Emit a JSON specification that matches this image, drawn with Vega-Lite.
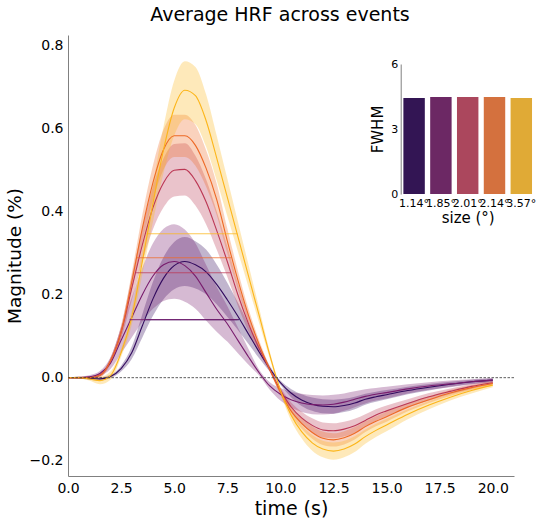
{
"$schema": "https://vega.github.io/schema/vega-lite/v6.json",
"width": 446, "height": 441,
"autosize": {"type": "none"},
"padding": {"left": 68, "top": 35, "right": 30, "bottom": 48},
"title": {"text": "Average HRF across events", "fontSize": 19, "font": "DejaVu Sans", "fontWeight": "normal", "color": "#000", "anchor": "middle", "baseline": "alphabetic", "offset": -4.5, "dx": -11},
"config": {"view": {"stroke": null}, "font": "DejaVu Sans",
  "axis": {"grid": false, "domainColor": "#808080", "domainWidth": 1, "ticks": false, "tickSize": 0, "labelFlush": false, "labelColor": "#000", "titleColor": "#000", "labelFont": "DejaVu Sans", "titleFont": "DejaVu Sans", "titleFontWeight": "normal"}},
"datasets": {
"hrf": [
{"t":0,"s":"1.14°","m":0,"lo":-0.001,"hi":0.001},
{"t":0.5,"s":"1.14°","m":0,"lo":-0.002,"hi":0.002},
{"t":1,"s":"1.14°","m":-0.002,"lo":-0.005,"hi":0.001},
{"t":1.5,"s":"1.14°","m":-0.003,"lo":-0.007,"hi":0.001},
{"t":2,"s":"1.14°","m":0.003,"lo":-0.001,"hi":0.007},
{"t":2.5,"s":"1.14°","m":0.022,"lo":0.015,"hi":0.029},
{"t":3,"s":"1.14°","m":0.06,"lo":0.045,"hi":0.075},
{"t":3.5,"s":"1.14°","m":0.125,"lo":0.097,"hi":0.153},
{"t":4,"s":"1.14°","m":0.19,"lo":0.149,"hi":0.231},
{"t":4.5,"s":"1.14°","m":0.24,"lo":0.189,"hi":0.291},
{"t":5,"s":"1.14°","m":0.27,"lo":0.213,"hi":0.327},
{"t":5.5,"s":"1.14°","m":0.28,"lo":0.221,"hi":0.339},
{"t":6,"s":"1.14°","m":0.272,"lo":0.215,"hi":0.329},
{"t":6.5,"s":"1.14°","m":0.255,"lo":0.201,"hi":0.309},
{"t":7,"s":"1.14°","m":0.225,"lo":0.177,"hi":0.273},
{"t":7.5,"s":"1.14°","m":0.188,"lo":0.147,"hi":0.229},
{"t":8,"s":"1.14°","m":0.148,"lo":0.115,"hi":0.181},
{"t":8.5,"s":"1.14°","m":0.105,"lo":0.081,"hi":0.129},
{"t":9,"s":"1.14°","m":0.062,"lo":0.047,"hi":0.077},
{"t":9.5,"s":"1.14°","m":0.022,"lo":0.015,"hi":0.029},
{"t":10,"s":"1.14°","m":-0.012,"lo":-0.017,"hi":-0.007},
{"t":10.5,"s":"1.14°","m":-0.037,"lo":-0.047,"hi":-0.027},
{"t":11,"s":"1.14°","m":-0.054,"lo":-0.068,"hi":-0.04},
{"t":11.5,"s":"1.14°","m":-0.064,"lo":-0.08,"hi":-0.048},
{"t":12,"s":"1.14°","m":-0.069,"lo":-0.086,"hi":-0.052},
{"t":12.5,"s":"1.14°","m":-0.07,"lo":-0.087,"hi":-0.053},
{"t":13,"s":"1.14°","m":-0.067,"lo":-0.083,"hi":-0.051},
{"t":13.5,"s":"1.14°","m":-0.061,"lo":-0.076,"hi":-0.046},
{"t":14,"s":"1.14°","m":-0.052,"lo":-0.065,"hi":-0.039},
{"t":14.5,"s":"1.14°","m":-0.046,"lo":-0.058,"hi":-0.034},
{"t":15,"s":"1.14°","m":-0.041,"lo":-0.052,"hi":-0.03},
{"t":16,"s":"1.14°","m":-0.031,"lo":-0.04,"hi":-0.022},
{"t":17,"s":"1.14°","m":-0.023,"lo":-0.031,"hi":-0.015},
{"t":18,"s":"1.14°","m":-0.016,"lo":-0.022,"hi":-0.01},
{"t":19,"s":"1.14°","m":-0.01,"lo":-0.015,"hi":-0.005},
{"t":20,"s":"1.14°","m":-0.006,"lo":-0.01,"hi":-0.002},
{"t":0,"s":"1.85°","m":0,"lo":-0.001,"hi":0.001},
{"t":0.5,"s":"1.85°","m":0,"lo":-0.002,"hi":0.002},
{"t":1,"s":"1.85°","m":0.002,"lo":-0.002,"hi":0.006},
{"t":1.5,"s":"1.85°","m":0.01,"lo":0.004,"hi":0.016},
{"t":2,"s":"1.85°","m":0.035,"lo":0.021,"hi":0.049},
{"t":2.5,"s":"1.85°","m":0.09,"lo":0.059,"hi":0.121},
{"t":3,"s":"1.85°","m":0.145,"lo":0.097,"hi":0.193},
{"t":3.5,"s":"1.85°","m":0.2,"lo":0.135,"hi":0.265},
{"t":4,"s":"1.85°","m":0.245,"lo":0.166,"hi":0.324},
{"t":4.5,"s":"1.85°","m":0.272,"lo":0.185,"hi":0.359},
{"t":5,"s":"1.85°","m":0.28,"lo":0.19,"hi":0.37},
{"t":5.5,"s":"1.85°","m":0.27,"lo":0.183,"hi":0.357},
{"t":6,"s":"1.85°","m":0.245,"lo":0.166,"hi":0.324},
{"t":6.5,"s":"1.85°","m":0.205,"lo":0.138,"hi":0.272},
{"t":7,"s":"1.85°","m":0.165,"lo":0.111,"hi":0.219},
{"t":7.5,"s":"1.85°","m":0.13,"lo":0.087,"hi":0.173},
{"t":8,"s":"1.85°","m":0.09,"lo":0.059,"hi":0.121},
{"t":8.5,"s":"1.85°","m":0.05,"lo":0.031,"hi":0.069},
{"t":9,"s":"1.85°","m":0.012,"lo":0.005,"hi":0.019},
{"t":9.5,"s":"1.85°","m":-0.02,"lo":-0.029,"hi":-0.011},
{"t":10,"s":"1.85°","m":-0.04,"lo":-0.055,"hi":-0.025},
{"t":10.5,"s":"1.85°","m":-0.053,"lo":-0.072,"hi":-0.034},
{"t":11,"s":"1.85°","m":-0.061,"lo":-0.083,"hi":-0.039},
{"t":11.5,"s":"1.85°","m":-0.065,"lo":-0.088,"hi":-0.042},
{"t":12,"s":"1.85°","m":-0.066,"lo":-0.089,"hi":-0.043},
{"t":12.5,"s":"1.85°","m":-0.064,"lo":-0.087,"hi":-0.041},
{"t":13,"s":"1.85°","m":-0.059,"lo":-0.08,"hi":-0.038},
{"t":13.5,"s":"1.85°","m":-0.052,"lo":-0.071,"hi":-0.033},
{"t":14,"s":"1.85°","m":-0.045,"lo":-0.062,"hi":-0.028},
{"t":14.5,"s":"1.85°","m":-0.04,"lo":-0.055,"hi":-0.025},
{"t":15,"s":"1.85°","m":-0.036,"lo":-0.05,"hi":-0.022},
{"t":16,"s":"1.85°","m":-0.027,"lo":-0.038,"hi":-0.016},
{"t":17,"s":"1.85°","m":-0.02,"lo":-0.029,"hi":-0.011},
{"t":18,"s":"1.85°","m":-0.015,"lo":-0.023,"hi":-0.007},
{"t":19,"s":"1.85°","m":-0.01,"lo":-0.016,"hi":-0.004},
{"t":20,"s":"1.85°","m":-0.006,"lo":-0.011,"hi":-0.001},
{"t":0,"s":"2.01°","m":0,"lo":-0.001,"hi":0.001},
{"t":0.5,"s":"2.01°","m":0,"lo":-0.002,"hi":0.002},
{"t":1,"s":"2.01°","m":0,"lo":-0.003,"hi":0.003},
{"t":1.5,"s":"2.01°","m":0.006,"lo":0.002,"hi":0.01},
{"t":2,"s":"2.01°","m":0.04,"lo":0.032,"hi":0.048},
{"t":2.5,"s":"2.01°","m":0.11,"lo":0.094,"hi":0.126},
{"t":3,"s":"2.01°","m":0.215,"lo":0.186,"hi":0.244},
{"t":3.5,"s":"2.01°","m":0.32,"lo":0.279,"hi":0.361},
{"t":4,"s":"2.01°","m":0.41,"lo":0.358,"hi":0.462},
{"t":4.5,"s":"2.01°","m":0.47,"lo":0.411,"hi":0.529},
{"t":5,"s":"2.01°","m":0.5,"lo":0.437,"hi":0.563},
{"t":5.5,"s":"2.01°","m":0.502,"lo":0.439,"hi":0.565},
{"t":6,"s":"2.01°","m":0.475,"lo":0.415,"hi":0.535},
{"t":6.5,"s":"2.01°","m":0.424,"lo":0.37,"hi":0.478},
{"t":7,"s":"2.01°","m":0.355,"lo":0.309,"hi":0.401},
{"t":7.5,"s":"2.01°","m":0.28,"lo":0.243,"hi":0.317},
{"t":8,"s":"2.01°","m":0.2,"lo":0.173,"hi":0.227},
{"t":8.5,"s":"2.01°","m":0.13,"lo":0.111,"hi":0.149},
{"t":9,"s":"2.01°","m":0.07,"lo":0.059,"hi":0.081},
{"t":9.5,"s":"2.01°","m":0.02,"lo":0.015,"hi":0.025},
{"t":10,"s":"2.01°","m":-0.03,"lo":-0.037,"hi":-0.023},
{"t":10.5,"s":"2.01°","m":-0.07,"lo":-0.081,"hi":-0.059},
{"t":11,"s":"2.01°","m":-0.097,"lo":-0.112,"hi":-0.082},
{"t":11.5,"s":"2.01°","m":-0.115,"lo":-0.132,"hi":-0.098},
{"t":12,"s":"2.01°","m":-0.126,"lo":-0.144,"hi":-0.108},
{"t":12.5,"s":"2.01°","m":-0.128,"lo":-0.146,"hi":-0.11},
{"t":13,"s":"2.01°","m":-0.124,"lo":-0.142,"hi":-0.106},
{"t":13.5,"s":"2.01°","m":-0.116,"lo":-0.133,"hi":-0.099},
{"t":14,"s":"2.01°","m":-0.103,"lo":-0.118,"hi":-0.088},
{"t":14.5,"s":"2.01°","m":-0.09,"lo":-0.104,"hi":-0.076},
{"t":15,"s":"2.01°","m":-0.08,"lo":-0.093,"hi":-0.067},
{"t":16,"s":"2.01°","m":-0.062,"lo":-0.072,"hi":-0.052},
{"t":17,"s":"2.01°","m":-0.046,"lo":-0.055,"hi":-0.037},
{"t":18,"s":"2.01°","m":-0.033,"lo":-0.04,"hi":-0.026},
{"t":19,"s":"2.01°","m":-0.021,"lo":-0.027,"hi":-0.015},
{"t":20,"s":"2.01°","m":-0.012,"lo":-0.016,"hi":-0.008},
{"t":0,"s":"2.14°","m":0,"lo":-0.001,"hi":0.001},
{"t":0.5,"s":"2.14°","m":0,"lo":-0.002,"hi":0.002},
{"t":1,"s":"2.14°","m":0,"lo":-0.003,"hi":0.003},
{"t":1.5,"s":"2.14°","m":0.005,"lo":0,"hi":0.01},
{"t":2,"s":"2.14°","m":0.04,"lo":0.033,"hi":0.047},
{"t":2.5,"s":"2.14°","m":0.11,"lo":0.097,"hi":0.123},
{"t":3,"s":"2.14°","m":0.23,"lo":0.208,"hi":0.252},
{"t":3.5,"s":"2.14°","m":0.36,"lo":0.327,"hi":0.393},
{"t":4,"s":"2.14°","m":0.47,"lo":0.428,"hi":0.512},
{"t":4.5,"s":"2.14°","m":0.55,"lo":0.502,"hi":0.598},
{"t":5,"s":"2.14°","m":0.583,"lo":0.532,"hi":0.634},
{"t":5.5,"s":"2.14°","m":0.583,"lo":0.532,"hi":0.634},
{"t":6,"s":"2.14°","m":0.56,"lo":0.511,"hi":0.609},
{"t":6.5,"s":"2.14°","m":0.505,"lo":0.461,"hi":0.549},
{"t":7,"s":"2.14°","m":0.43,"lo":0.392,"hi":0.468},
{"t":7.5,"s":"2.14°","m":0.33,"lo":0.3,"hi":0.36},
{"t":8,"s":"2.14°","m":0.235,"lo":0.212,"hi":0.258},
{"t":8.5,"s":"2.14°","m":0.15,"lo":0.134,"hi":0.166},
{"t":9,"s":"2.14°","m":0.08,"lo":0.07,"hi":0.09},
{"t":9.5,"s":"2.14°","m":0.02,"lo":0.014,"hi":0.026},
{"t":10,"s":"2.14°","m":-0.035,"lo":-0.042,"hi":-0.028},
{"t":10.5,"s":"2.14°","m":-0.08,"lo":-0.09,"hi":-0.07},
{"t":11,"s":"2.14°","m":-0.11,"lo":-0.123,"hi":-0.097},
{"t":11.5,"s":"2.14°","m":-0.132,"lo":-0.147,"hi":-0.117},
{"t":12,"s":"2.14°","m":-0.146,"lo":-0.162,"hi":-0.13},
{"t":12.5,"s":"2.14°","m":-0.15,"lo":-0.166,"hi":-0.134},
{"t":13,"s":"2.14°","m":-0.145,"lo":-0.161,"hi":-0.129},
{"t":13.5,"s":"2.14°","m":-0.134,"lo":-0.149,"hi":-0.119},
{"t":14,"s":"2.14°","m":-0.118,"lo":-0.131,"hi":-0.105},
{"t":14.5,"s":"2.14°","m":-0.105,"lo":-0.117,"hi":-0.093},
{"t":15,"s":"2.14°","m":-0.094,"lo":-0.106,"hi":-0.082},
{"t":16,"s":"2.14°","m":-0.071,"lo":-0.081,"hi":-0.061},
{"t":17,"s":"2.14°","m":-0.053,"lo":-0.061,"hi":-0.045},
{"t":18,"s":"2.14°","m":-0.037,"lo":-0.044,"hi":-0.03},
{"t":19,"s":"2.14°","m":-0.024,"lo":-0.03,"hi":-0.018},
{"t":20,"s":"2.14°","m":-0.014,"lo":-0.019,"hi":-0.009},
{"t":0,"s":"3.57°","m":0,"lo":-0.001,"hi":0.001},
{"t":0.5,"s":"3.57°","m":0,"lo":-0.002,"hi":0.002},
{"t":1,"s":"3.57°","m":-0.003,"lo":-0.007,"hi":0.001},
{"t":1.5,"s":"3.57°","m":-0.007,"lo":-0.016,"hi":0.002},
{"t":2,"s":"3.57°","m":0.005,"lo":-0.005,"hi":0.015},
{"t":2.5,"s":"3.57°","m":0.06,"lo":0.05,"hi":0.07},
{"t":3,"s":"3.57°","m":0.145,"lo":0.127,"hi":0.163},
{"t":3.5,"s":"3.57°","m":0.28,"lo":0.249,"hi":0.311},
{"t":4,"s":"3.57°","m":0.42,"lo":0.376,"hi":0.464},
{"t":4.5,"s":"3.57°","m":0.55,"lo":0.494,"hi":0.606},
{"t":5,"s":"3.57°","m":0.65,"lo":0.584,"hi":0.716},
{"t":5.5,"s":"3.57°","m":0.693,"lo":0.623,"hi":0.763},
{"t":6,"s":"3.57°","m":0.68,"lo":0.611,"hi":0.749},
{"t":6.5,"s":"3.57°","m":0.62,"lo":0.557,"hi":0.683},
{"t":7,"s":"3.57°","m":0.53,"lo":0.476,"hi":0.584},
{"t":7.5,"s":"3.57°","m":0.435,"lo":0.39,"hi":0.48},
{"t":8,"s":"3.57°","m":0.34,"lo":0.304,"hi":0.376},
{"t":8.5,"s":"3.57°","m":0.245,"lo":0.218,"hi":0.272},
{"t":9,"s":"3.57°","m":0.15,"lo":0.132,"hi":0.168},
{"t":9.5,"s":"3.57°","m":0.055,"lo":0.046,"hi":0.064},
{"t":10,"s":"3.57°","m":-0.03,"lo":-0.037,"hi":-0.023},
{"t":10.5,"s":"3.57°","m":-0.09,"lo":-0.103,"hi":-0.077},
{"t":11,"s":"3.57°","m":-0.13,"lo":-0.146,"hi":-0.114},
{"t":11.5,"s":"3.57°","m":-0.157,"lo":-0.176,"hi":-0.138},
{"t":12,"s":"3.57°","m":-0.172,"lo":-0.192,"hi":-0.152},
{"t":12.5,"s":"3.57°","m":-0.177,"lo":-0.198,"hi":-0.156},
{"t":13,"s":"3.57°","m":-0.172,"lo":-0.192,"hi":-0.152},
{"t":13.5,"s":"3.57°","m":-0.16,"lo":-0.179,"hi":-0.141},
{"t":14,"s":"3.57°","m":-0.142,"lo":-0.159,"hi":-0.125},
{"t":14.5,"s":"3.57°","m":-0.127,"lo":-0.143,"hi":-0.111},
{"t":15,"s":"3.57°","m":-0.114,"lo":-0.129,"hi":-0.099},
{"t":16,"s":"3.57°","m":-0.088,"lo":-0.1,"hi":-0.076},
{"t":17,"s":"3.57°","m":-0.066,"lo":-0.076,"hi":-0.056},
{"t":18,"s":"3.57°","m":-0.047,"lo":-0.055,"hi":-0.039},
{"t":19,"s":"3.57°","m":-0.031,"lo":-0.038,"hi":-0.024},
{"t":20,"s":"3.57°","m":-0.018,"lo":-0.023,"hi":-0.013}
],
"fwhmLines": [
{"s":"1.14°","x1":3.62,"x2":8.06,"y":0.14},
{"s":"1.85°","x1":2.9,"x2":7.98,"y":0.14},
{"s":"2.01°","x1":3.18,"x2":7.68,"y":0.253},
{"s":"2.14°","x1":3.23,"x2":7.68,"y":0.289},
{"s":"3.57°","x1":3.7,"x2":7.98,"y":0.347}
],
"fwhm": [
{"s":"1.14°","v":4.43},
{"s":"1.85°","v":4.48},
{"s":"2.01°","v":4.48},
{"s":"2.14°","v":4.48},
{"s":"3.57°","v":4.43}
]
},
"layer": [
{
"layer": [
{"data": {"name": "hrf"},
 "mark": {"type": "area", "opacity": 0.3, "interpolate": "monotone"},
 "encoding": {
  "x": {"field": "t", "type": "quantitative", "scale": {"domain": [0, 21], "nice": false, "zero": false},
        "axis": {"values": [0, 2.5, 5, 7.5, 10, 12.5, 15, 17.5, 20], "format": ".1f", "title": "time (s)", "labelFontSize": 14, "titleFontSize": 19, "labelPadding": 5, "titlePadding": 4}},
  "y": {"field": "lo", "type": "quantitative", "scale": {"domain": [-0.237, 0.826], "nice": false, "zero": false},
        "axis": {"values": [-0.2, 0, 0.2, 0.4, 0.6, 0.8], "format": ".1f", "title": "Magnitude (%)", "labelFontSize": 14, "titleFontSize": 18.5, "labelPadding": 5, "titlePadding": 5}},
  "y2": {"field": "hi"},
  "color": {"field": "s", "type": "nominal", "scale": {"domain": ["1.14°", "1.85°", "2.01°", "2.14°", "3.57°"], "range": ["#320A5E", "#781C6D", "#BB3754", "#ED6925", "#FCB519"]}, "legend": null}
 }},
{"data": {"name": "hrf"},
 "mark": {"type": "line", "strokeWidth": 1.1, "interpolate": "monotone"},
 "encoding": {
  "x": {"field": "t", "type": "quantitative", "title": "time (s)"},
  "y": {"field": "m", "type": "quantitative", "title": "Magnitude (%)"},
  "color": {"field": "s", "type": "nominal", "legend": null}
 }},
{"data": {"name": "fwhmLines"},
 "mark": {"type": "rule", "strokeWidth": 1.1, "opacity": 0.75},
 "encoding": {
  "x": {"field": "x1", "type": "quantitative", "title": "time (s)"},
  "x2": {"field": "x2"},
  "y": {"field": "y", "type": "quantitative", "title": "Magnitude (%)"},
  "color": {"field": "s", "type": "nominal", "legend": null}
 }},
{"data": {"values": [{}]},
 "mark": {"type": "rule", "strokeDash": [2.5, 1.5], "color": "#333333", "strokeWidth": 0.8},
 "encoding": {"y": {"datum": 0, "type": "quantitative", "title": "Magnitude (%)"}}}
]
},
{"data": {"name": "fwhm"},
 "mark": {"type": "bar"},
 "encoding": {
  "x": {"field": "s", "type": "nominal", "sort": null,
        "scale": {"range": [332.7, 466.7], "paddingInner": 0.2, "paddingOuter": 0.1},
        "axis": {"orient": "bottom", "offset": -282, "domain": false, "labelAngle": 0, "labelFontSize": 11, "labelPadding": 3, "title": "size (°)", "titleFontSize": 15, "titlePadding": 2.5}},
  "y": {"field": "v", "type": "quantitative", "scale": {"domain": [0, 6], "range": [159, 29], "nice": false},
        "axis": {"orient": "left", "offset": -332.7, "values": [0, 3, 6], "labelFontSize": 11, "labelPadding": 3, "title": "FWHM", "titleFontSize": 15, "titlePadding": 5}},
  "color": {"field": "s", "type": "nominal", "sort": null, "scale": {"range": ["#331554", "#6c2864", "#ab475d", "#d4713e", "#e0aa36"]}, "legend": null}
 }}
],
"resolve": {"scale": {"x": "independent", "y": "independent", "color": "independent"}, "axis": {"x": "independent", "y": "independent"}}
}
